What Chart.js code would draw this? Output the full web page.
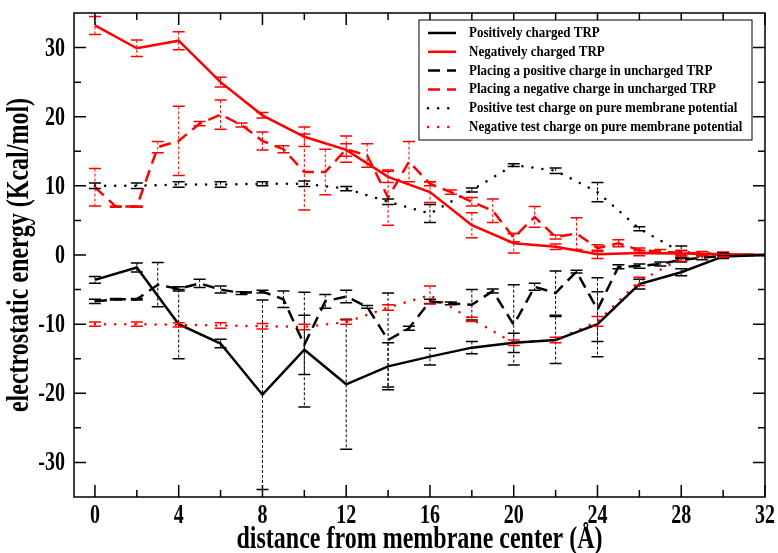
<!DOCTYPE html>
<html>
<head>
<meta charset="utf-8">
<script src="https://cdn.jsdelivr.net/npm/chart.js@4.4.0/dist/chart.umd.min.js"></script>
<style>
  html, body { margin: 0; padding: 0; background: #fff; }
</style>
</head>
<body>
<canvas id="chart" width="778" height="553"></canvas>
<script>
// x positions (Å)
const xEven = [0, 2, 4, 6, 8, 10, 12, 14, 16, 18, 20, 22, 24, 26, 28, 30, 32];
const xAll = [0, 1, 2, 3, 4, 5, 6, 7, 8, 9, 10, 11, 12, 13, 14, 15, 16, 17, 18, 19, 20, 21, 22, 23, 24, 25, 26, 27, 28, 29, 30, 31, 32];

const xTicks = [0, 4, 8, 12, 16, 20, 24, 28, 32];
const yTicks = [-30, -20, -10, 0, 10, 20, 30];

// Positively charged TRP (solid black), every 2 Å
const posTrp    = [-3.6, -1.8, -10.0, -12.8, -20.2, -13.7, -18.7, -16.1, -14.7, -13.4, -12.7, -12.3, -10.0, -4.2, -2.5, -0.2, 0];
const posTrpErr = [0.5, 0.65, 5.0, 0.6, 13.7, 8.3, 9.4, 3.4, 1.2, 0.9, 1.4, 3.4, 4.7, 0.7, 0.5, 0.3, 0];

// Negatively charged TRP (solid red), every 2 Å
const negTrp    = [33.2, 29.9, 31.0, 25.0, 20.2, 17.1, 15.2, 11.3, 9.1, 4.3, 1.7, 1.2, 0.1, 0.3, 0.2, 0.1, 0];
const negTrpErr = [1.3, 1.2, 1.3, 0.7, 0.4, 1.4, 0.9, 0.8, 1.5, 1.8, 1.4, 0.4, 0.6, 0.4, 0.5, 0.3, 0];

// Placing a positive charge in uncharged TRP (dashed black), every 1 Å
const posUnch    = [-6.7, -6.4, -6.4, -4.3, -4.9, -4.1, -5.0, -5.5, -5.3, -6.4, -13.0, -6.7, -6.0, -7.5, -12.3, -10.6, -6.7,
                    -7.0, -7.2, -5.2, -10.1, -4.6, -5.5, -2.4, -7.9, -1.7, -1.6, -1.3, -0.7, -0.4, -0.1, 0, 0];
const posUnchErr = [0.3, 0.1, 0.1, 3.2, 0.3, 0.6, 0.5, 0.2, 0.2, 1.2, 4.3, 1.0, 0.9, 0.2, 6.8, 0.3, 0.3,
                    0.2, 2.2, 0.3, 5.8, 0.5, 3.2, 0.2, 4.6, 0.3, 0.3, 0.3, 0.3, 0.3, 0.2, 0, 0];

// Placing a negative charge in uncharged TRP (dashed red), every 1 Å
const negUnch    = [9.8, 7.0, 7.0, 15.6, 16.5, 19.0, 20.3, 18.8, 16.5, 15.3, 12.0, 12.0, 15.3, 14.4, 8.3, 13.5, 10.3,
                    9.1, 7.7, 6.4, 2.5, 5.5, 2.6, 3.1, 1.0, 1.7, 0.7, 0.5, 0.3, 0.2, 0.1, 0, 0];
const negUnchErr = [2.7, 0.1, 0.1, 0.8, 5.0, 0.3, 2.1, 0.3, 1.3, 0.5, 5.5, 3.3, 1.9, 1.7, 4.0, 2.9, 0.3,
                    0.3, 0.6, 1.7, 0.6, 1.5, 0.3, 2.3, 0.5, 0.5, 0.3, 0.3, 0.3, 0.3, 0.3, 0, 0];

// Positive test charge on pure membrane potential (dotted black), every 2 Å
const posTest    = [10.0, 10.0, 10.2, 10.2, 10.3, 10.3, 9.6, 7.7, 6.0, 9.4, 13.0, 12.2, 9.1, 3.8, 0.4, 0.1, 0];
const posTestErr = [0.4, 0.4, 0.4, 0.4, 0.3, 0.4, 0.3, 0.4, 1.3, 0.3, 0.2, 0.4, 1.4, 0.3, 0.9, 0.2, 0];

// Negative test charge on pure membrane potential (dotted red), every 2 Å
const negTest    = [-10.0, -10.0, -10.1, -10.2, -10.3, -10.4, -9.7, -7.6, -5.8, -9.3, -12.7, -12.3, -9.6, -3.8, -0.5, -0.1, 0];
const negTestErr = [0.3, 0.3, 0.3, 0.4, 0.4, 0.4, 0.3, 0.4, 1.3, 0.3, 0.4, 0.4, 0.7, 0.6, 0.4, 0.2, 0];

const xTitle = 'distance from membrane center (Å)';
const yTitle = 'electrostatic energy (Kcal/mol)';

const FONT = '"Liberation Serif", "Times New Roman", serif';
const STRETCH = 1.35; // the original figure's lettering is drawn tall and narrow

function points(xs, ys) {
    return xs.map((x, i) => ({ x: x, y: ys[i] }));
}

function series(label, xs, ys, errs, color, dash) {
    return {
        label: label,
        data: points(xs, ys),
        errors: errs,
        borderColor: color,
        backgroundColor: color,
        borderWidth: 2.5,
        borderDash: dash,
        borderCapStyle: dash.length && dash[0] < 1 ? 'round' : 'butt',
        pointRadius: 0,
        fill: false,
        tension: 0
    };
}

const DASH = [12, 7];
const DOT = [0.1, 10];

// text drawn taller than wide, like the source figure
function tallText(ctx, text, x, y, size, align, rot, stretch) {
    ctx.save();
    ctx.translate(x, y);
    if (rot) ctx.rotate(rot);
    ctx.scale(1, stretch);
    ctx.font = 'bold ' + size + 'px ' + FONT;
    ctx.textAlign = align;
    ctx.textBaseline = 'middle';
    ctx.fillStyle = '#000';
    ctx.fillText(text, 0, 0);
    ctx.restore();
}

// error bars, frame, inward ticks, labels and the boxed legend
const extras = {
    id: 'extras',
    afterDatasetsDraw(chart) {
        const { ctx, scales: { x, y } } = chart;
        chart.data.datasets.forEach(ds => {
            ctx.save();
            ctx.strokeStyle = ds.borderColor;
            ds.data.forEach((p, i) => {
                const e = ds.errors[i];
                if (!e) return;
                const px = x.getPixelForValue(p.x);
                const top = y.getPixelForValue(p.y + e);
                const bot = y.getPixelForValue(p.y - e);
                ctx.lineWidth = 1;
                ctx.setLineDash([3, 2]);
                ctx.beginPath();
                ctx.moveTo(px, top);
                ctx.lineTo(px, bot);
                ctx.stroke();
                ctx.setLineDash([]);
                ctx.lineWidth = 1.5;
                ctx.beginPath();
                ctx.moveTo(px - 6, top); ctx.lineTo(px + 6, top);
                ctx.moveTo(px - 6, bot); ctx.lineTo(px + 6, bot);
                ctx.stroke();
            });
            ctx.restore();
        });
    },
    afterDraw(chart) {
        const { ctx, chartArea: a, scales: { x, y } } = chart;
        ctx.save();
        ctx.strokeStyle = '#000';
        ctx.lineWidth = 1.5;
        ctx.strokeRect(a.left, a.top, a.right - a.left, a.bottom - a.top);

        // ticks pointing inward on all four sides
        ctx.beginPath();
        for (let v = 0; v <= 32; v += 2) {
            const len = v % 4 === 0 ? 12 : 7;
            const px = x.getPixelForValue(v);
            ctx.moveTo(px, a.bottom); ctx.lineTo(px, a.bottom - len);
            ctx.moveTo(px, a.top); ctx.lineTo(px, a.top + len);
        }
        for (let v = -30; v <= 30; v += 5) {
            const len = v % 10 === 0 ? 12 : 7;
            const py = y.getPixelForValue(v);
            ctx.moveTo(a.left, py); ctx.lineTo(a.left + len, py);
            ctx.moveTo(a.right, py); ctx.lineTo(a.right - len, py);
        }
        ctx.stroke();

        // tick labels and axis titles
        x.ticks.forEach(t => tallText(ctx, String(t.value), x.getPixelForValue(t.value), a.bottom + 19, 20, 'center', 0, STRETCH));
        y.ticks.forEach(t => tallText(ctx, String(t.value), a.left - 9, y.getPixelForValue(t.value) + 1, 20, 'right', 0, STRETCH));
        tallText(ctx, xTitle, (a.left + a.right) / 2, 540, 24, 'center', 0, STRETCH);
        tallText(ctx, yTitle, 20, (a.top + a.bottom) / 2, 24, 'center', -Math.PI / 2, STRETCH);

        // legend box
        const bx = 419, by = 20, bw = 333, bh = 120;
        ctx.fillStyle = '#fff';
        ctx.fillRect(bx, by, bw, bh);
        ctx.lineWidth = 1;
        ctx.strokeRect(bx, by, bw, bh);
        chart.data.datasets.forEach((ds, i) => {
            const ry = 33 + i * 18.8;
            ctx.strokeStyle = ds.borderColor;
            ctx.lineWidth = ds.borderWidth;
            ctx.setLineDash(ds.borderDash);
            ctx.lineCap = ds.borderCapStyle;
            ctx.beginPath();
            ctx.moveTo(428, ry);
            ctx.lineTo(456, ry);
            ctx.stroke();
            ctx.setLineDash([]);
            tallText(ctx, ds.label, 469, ry, 13, 'left', 0, 1.2);
        });
        ctx.restore();
    }
};

new Chart(document.getElementById('chart'), {
    type: 'line',
    data: {
        datasets: [
            series('Positively charged TRP', xEven, posTrp, posTrpErr, '#000000', []),
            series('Negatively charged TRP', xEven, negTrp, negTrpErr, '#ff0000', []),
            series('Placing a positive charge in uncharged TRP', xAll, posUnch, posUnchErr, '#000000', DASH),
            series('Placing a negative charge in uncharged TRP', xAll, negUnch, negUnchErr, '#ff0000', DASH),
            series('Positive test charge on pure membrane potential', xEven, posTest, posTestErr, '#000000', DOT),
            series('Negative test charge on pure membrane potential', xEven, negTest, negTestErr, '#ff0000', DOT)
        ]
    },
    options: {
        responsive: false,
        animation: false,
        layout: { padding: { top: 13, right: 13, left: 0, bottom: 0 } },
        plugins: { legend: { display: false }, tooltip: { enabled: false } },
        scales: {
            x: {
                type: 'linear',
                min: -1,
                max: 32,
                afterBuildTicks: s => { s.ticks = xTicks.map(v => ({ value: v })); },
                afterFit: s => { s.height = 56; },
                grid: { display: false, drawTicks: false },
                border: { display: false },
                ticks: { display: false }
            },
            y: {
                min: -35,
                max: 35,
                afterBuildTicks: s => { s.ticks = yTicks.map(v => ({ value: v })); },
                afterFit: s => { s.width = 74; },
                grid: { display: false, drawTicks: false },
                border: { display: false },
                ticks: { display: false }
            }
        }
    },
    plugins: [extras]
});
</script>
</body>
</html>
